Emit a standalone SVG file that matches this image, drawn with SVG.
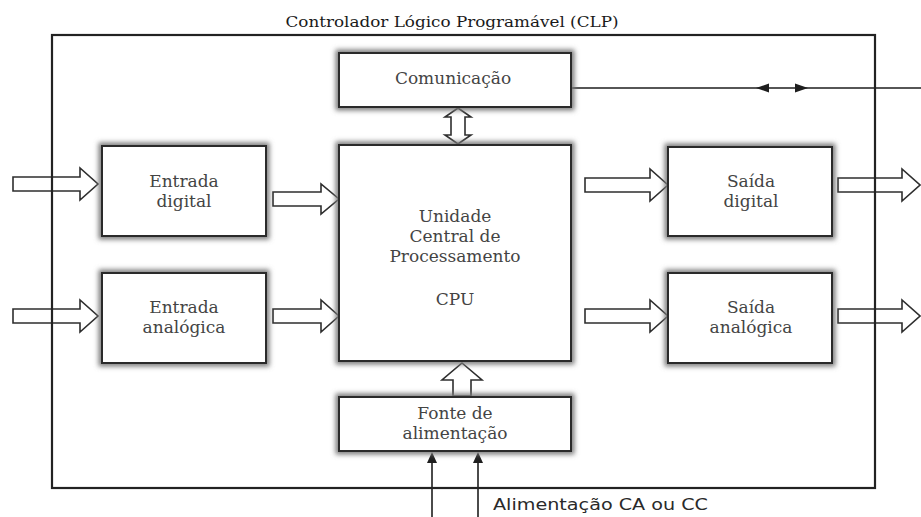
<svg xmlns="http://www.w3.org/2000/svg" width="921" height="517" viewBox="0 0 921 517">
  <defs>
    <filter id="halo" x="-10%" y="-20%" width="120%" height="140%">
      <feGaussianBlur stdDeviation="2.5"/>
    </filter>
    <style>
      .halo { fill: none; stroke: #7a7a7a; stroke-width: 7; filter: url(#halo); }
      .box { fill: #ffffff; stroke: #2a2a2a; stroke-width: 2; }
      .lbl { font-family: "DejaVu Serif", "Liberation Serif", serif; font-size: 17px; fill: #444444; text-anchor: middle; }
      .hollow { fill: #ffffff; stroke: #2e2e2e; stroke-width: 1.6; stroke-linejoin: miter; }
      .wire { fill: none; stroke: #1e1e1e; stroke-width: 1.6; }
      .head { fill: #1e1e1e; stroke: none; }
      .frame { fill: none; stroke: #222222; stroke-width: 2.2; }
    </style>
  </defs>
  <rect width="921" height="517" fill="#ffffff"/>

  <text x="452" y="27" font-family="DejaVu Serif, Liberation Serif, serif" font-size="14.5" fill="#1a1a1a" text-anchor="middle" textLength="333" lengthAdjust="spacingAndGlyphs">Controlador Lógico Programável (CLP)</text>

  <g id="connectors">
    <!-- hollow input/output arrows -->
    <path class="hollow" d="M13,177 H80 V168 L98,184 L80,200 V191 H13 Z"/>
    <path class="hollow" d="M13,309 H80 V300 L98,316 L80,332 V323 H13 Z"/>
    <path class="hollow" d="M273,192 H321 V184 L339,199 L321,214 V206 H273 Z"/>
    <path class="hollow" d="M273,309 H321 V300 L339,316 L321,332 V323 H273 Z"/>
    <path class="hollow" d="M585,178 H650 V169 L668,185 L650,201 V192 H585 Z"/>
    <path class="hollow" d="M585,309 H650 V300 L668,316 L650,332 V323 H585 Z"/>
    <path class="hollow" d="M838,178 H902 V169 L920,185 L902,201 V192 H838 Z"/>
    <path class="hollow" d="M838,309 H902 V300 L920,316 L902,332 V323 H838 Z"/>
    <!-- double arrow Comunicação <-> CPU -->
    <path class="hollow" d="M458,108 L471,117 H465 V135 H471 L458,144 L445,135 H451 V117 H445 Z"/>
    <!-- power to CPU -->
    <path class="hollow" d="M462,363 L482,380 H471 V396 H453 V380 H442 Z"/>
    <!-- communication line -->
    <line class="wire" x1="571" y1="88" x2="921" y2="88"/>
    <path class="head" d="M756,88 L769,83.5 L769,92.5 Z"/>
    <path class="head" d="M808,88 L795,83.5 L795,92.5 Z"/>
    <!-- power supply lines -->
    <line class="wire" x1="432" y1="517" x2="432" y2="460"/>
    <line class="wire" x1="478" y1="517" x2="478" y2="460"/>
    <path class="head" d="M432,452 L427,463 L437,463 Z"/>
    <path class="head" d="M478,452 L473,463 L483,463 Z"/>
  </g>

  <rect class="frame" x="52" y="35" width="823" height="453"/>

  <g id="comunicacao">
    <rect class="halo" x="339" y="53" width="232" height="54"/>
    <rect class="box" x="339" y="53" width="232" height="54"/>
    <text class="lbl" x="453" y="84">Comunicação</text>
  </g>

  <g id="cpu">
    <rect class="halo" x="339" y="145" width="232" height="216"/>
    <rect class="box" x="339" y="145" width="232" height="216"/>
    <text class="lbl" x="455" y="222">Unidade</text>
    <text class="lbl" x="455" y="242">Central de</text>
    <text class="lbl" x="455" y="262">Processamento</text>
    <text class="lbl" x="455" y="305">CPU</text>
  </g>

  <g id="entrada-digital">
    <rect class="halo" x="102" y="146" width="164" height="90"/>
    <rect class="box" x="102" y="146" width="164" height="90"/>
    <text class="lbl" x="184" y="187">Entrada</text>
    <text class="lbl" x="184" y="207">digital</text>
  </g>

  <g id="entrada-analogica">
    <rect class="halo" x="102" y="273" width="164" height="90"/>
    <rect class="box" x="102" y="273" width="164" height="90"/>
    <text class="lbl" x="184" y="313">Entrada</text>
    <text class="lbl" x="184" y="333">analógica</text>
  </g>

  <g id="saida-digital">
    <rect class="halo" x="668" y="147" width="164" height="89"/>
    <rect class="box" x="668" y="147" width="164" height="89"/>
    <text class="lbl" x="751" y="187">Saída</text>
    <text class="lbl" x="751" y="207">digital</text>
  </g>

  <g id="saida-analogica">
    <rect class="halo" x="668" y="273" width="164" height="90"/>
    <rect class="box" x="668" y="273" width="164" height="90"/>
    <text class="lbl" x="751" y="313">Saída</text>
    <text class="lbl" x="751" y="333">analógica</text>
  </g>

  <g id="fonte">
    <rect class="halo" x="339" y="397" width="232" height="54"/>
    <rect class="box" x="339" y="397" width="232" height="54"/>
    <text class="lbl" x="455" y="419">Fonte de</text>
    <text class="lbl" x="455" y="439">alimentação</text>
  </g>

  <text x="493" y="510" font-family="DejaVu Sans, Liberation Sans, sans-serif" font-size="15.5" fill="#2a2a2a" textLength="215" lengthAdjust="spacingAndGlyphs">Alimentação CA ou CC</text>
</svg>
